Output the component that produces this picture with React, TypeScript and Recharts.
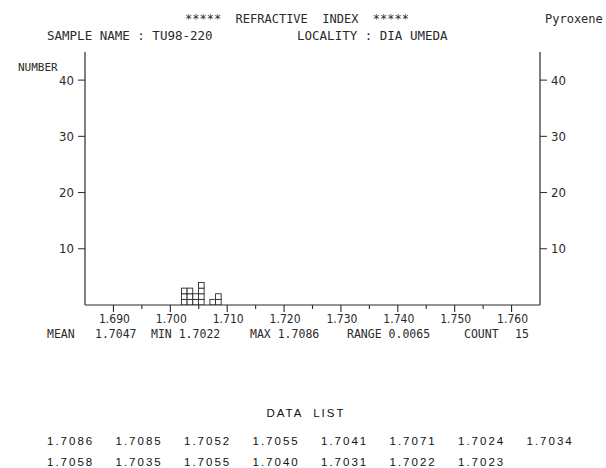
import React from 'react';
import { ComposedChart, Bar, XAxis, YAxis } from 'recharts';

// ---- data ----
const binCenters = [1.7025, 1.7035, 1.7045, 1.7055, 1.7065, 1.7075, 1.7085];
const binCounts = [3, 3, 2, 4, 0, 1, 2];
const xTickValues = [1.69, 1.695, 1.7, 1.705, 1.71, 1.715, 1.72, 1.725, 1.73, 1.735, 1.74, 1.745, 1.75, 1.755, 1.76];
const xTickLabels = ['1.690', '1.700', '1.710', '1.720', '1.730', '1.740', '1.750', '1.760'];
const yTicks = [10, 20, 30, 40];
const dataListRow1 = ['1.7086', '1.7085', '1.7052', '1.7055', '1.7041', '1.7071', '1.7024', '1.7034'];
const dataListRow2 = ['1.7058', '1.7035', '1.7055', '1.7040', '1.7031', '1.7022', '1.7023'];
const statLabels = ['MEAN', '1.7047', 'MIN 1.7022', 'MAX 1.7086', 'RANGE 0.0065', 'COUNT', '15'];

const chartData = binCenters.map((x, i) => ({ x, count: binCounts[i] }));

const MONO = '"DejaVu Sans Mono", monospace';
const SANS = '"Liberation Sans", Arial, sans-serif';
const NARROW = '"Liberation Sans Narrow", "DejaVu Sans Condensed", "Liberation Sans", sans-serif';
const INK = '#2a2a2a';

const CellStack = (props: any) => {
  const { x, y, width, height, payload } = props;
  const n = payload ? payload.count : 0;
  if (!n || !height) return null;
  const unit = height / n;
  const cx = x + width / 2;
  const cells = [];
  for (let i = 0; i < n; i++) {
    cells.push(
      <rect key={i} x={cx - unit / 2} y={y + height - (i + 1) * unit} width={unit} height={unit}
        fill="#fff" stroke={INK} strokeWidth={0.9} />
    );
  }
  return <g>{cells}</g>;
};

const XTick = (props: any) => {
  const { x, y, payload } = props;
  const v = payload.value;
  const label = v.toFixed(3);
  const major = xTickLabels.indexOf(label) >= 0;
  return (
    <g>
      <line x1={x} x2={x} y1={y} y2={y + (major ? 7 : 4)} stroke={INK} strokeWidth={1.1} />
      {major && (
        <text x={x + 1} y={y + 18} textAnchor="middle" fontFamily={NARROW} fontSize={12} fill={INK}>
          {label}
        </text>
      )}
    </g>
  );
};

const statX = [47, 95, 151, 250, 347, 464, 515];
const colX = [47, 115.5, 184, 252.5, 321, 389.5, 458, 526.5];
const pre = { whiteSpace: 'pre' as const };

export default function App() {
  return (
    <div style={{ position: 'absolute', left: 0, top: 0, width: 606, height: 468, background: '#fff' }}>
      <ComposedChart width={606} height={468} data={chartData}
        margin={{ top: 52, right: 26, bottom: 133, left: 45 }}>
        <XAxis dataKey="x" type="number" domain={[1.685, 1.765]} allowDataOverflow
          ticks={xTickValues} interval={0} tickSize={0} tickMargin={0} height={30}
          tick={<XTick />} tickLine={false} axisLine={{ stroke: INK, strokeWidth: 1.2 }} />
        <YAxis yAxisId="l" orientation="left" width={40} domain={[0, 45]} ticks={yTicks}
          interval={0} tickSize={7} tickMargin={4} allowDataOverflow
          axisLine={{ stroke: INK, strokeWidth: 1.2 }} tickLine={{ stroke: INK }}
          tick={{ fontFamily: NARROW, fontSize: 13, fill: INK }} />
        <YAxis yAxisId="r" orientation="right" width={40} domain={[0, 45]} ticks={yTicks}
          interval={0} tickSize={7} tickMargin={4} allowDataOverflow
          axisLine={{ stroke: INK, strokeWidth: 1.2 }} tickLine={{ stroke: INK }}
          tick={{ fontFamily: NARROW, fontSize: 13, fill: INK }} />
        <Bar yAxisId="l" dataKey="count" isAnimationActive={false} barSize={6} shape={<CellStack />} />
      </ComposedChart>
      <svg width={606} height={468} style={{ position: 'absolute', left: 0, top: 0, pointerEvents: 'none' }}>
        <g fill={INK} fontFamily={MONO}>
          <text x={185} y={23} fontSize={12} style={pre}>{'*****  REFRACTIVE  INDEX  *****'}</text>
          <text x={545} y={23} fontSize={12}>Pyroxene</text>
          <text x={47} y={40} fontSize={12.5} style={pre}>SAMPLE NAME : TU98-220</text>
          <text x={297} y={40} fontSize={12.5} style={pre}>LOCALITY : DIA UMEDA</text>
          <text x={18} y={71} fontSize={11}>NUMBER</text>
          {statLabels.map((s, i) => (
            <text key={i} x={statX[i]} y={338} fontSize={11.5} style={pre}>{s}</text>
          ))}
        </g>
        <g fill="#111" fontFamily={SANS} fontSize={11.5} letterSpacing={2}>
          <text x={306} y={417} textAnchor="middle" style={pre}>{'DATA  LIST'}</text>
          {dataListRow1.map((s, i) => (
            <text key={'a' + i} x={colX[i]} y={445}>{s}</text>
          ))}
          {dataListRow2.map((s, i) => (
            <text key={'b' + i} x={colX[i]} y={466}>{s}</text>
          ))}
        </g>
      </svg>
    </div>
  );
}
